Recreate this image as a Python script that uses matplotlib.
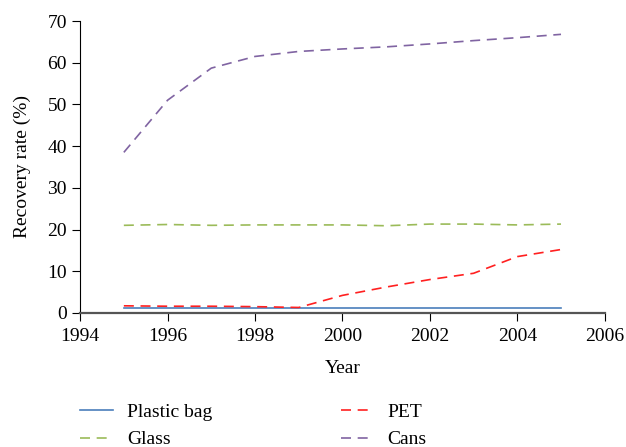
import matplotlib
matplotlib.use("Agg")
import matplotlib.pyplot as plt

years = [1995, 1996, 1997, 1998, 1999, 2000, 2001, 2002, 2003, 2004, 2005]
plastic_bag = [1.1, 1.1, 1.1, 1.1, 1.1, 1.1, 1.1, 1.1, 1.1, 1.1, 1.1]
pet = [1.7, 1.6, 1.6, 1.5, 1.3, 4.2, 6.2, 8.0, 9.5, 13.5, 15.2]
glass = [21.0, 21.2, 21.0, 21.1, 21.1, 21.1, 20.9, 21.3, 21.3, 21.1, 21.3]
cans = [38.5, 51.0, 58.7, 61.5, 62.7, 63.3, 63.8, 64.5, 65.3, 66.0, 66.8]

x_ticks = [1994, 1996, 1998, 2000, 2002, 2004, 2006]
y_ticks = [0, 10, 20, 30, 40, 50, 60, 70]

plt.rcParams['font.family'] = ['Liberation Serif', 'DejaVu Serif']

fig = plt.figure(figsize=(6.26, 4.47), dpi=100)
ax = fig.add_axes([0.128, 0.300, 0.838, 0.653])

dash = (0, (6, 4))
l1, = ax.plot(years, plastic_bag, color='#4a7ebb', lw=1.2, label='Plastic bag')
l2, = ax.plot(years, pet, color='#ff2020', lw=1.2, ls=dash, label='PET')
l3, = ax.plot(years, glass, color='#9bbb59', lw=1.2, ls=dash, label='Glass')
l4, = ax.plot(years, cans, color='#8064a2', lw=1.2, ls=dash, label='Cans')

ax.set_xlim(1994, 2006)
ax.set_ylim(0, 70)
ax.set_xticks(x_ticks)
ax.set_yticks(y_ticks)
ax.spines['top'].set_visible(False)
ax.spines['right'].set_visible(False)
ax.spines['left'].set_color('black')
ax.spines['bottom'].set_color('#555555')
ax.spines['bottom'].set_linewidth(1.6)
ax.tick_params(labelsize=14, length=6, direction='out', color='black')
ax.tick_params(axis='x', pad=5)
ax.set_xlabel('Year', fontsize=14, labelpad=11)
ax.set_ylabel('Recovery rate (%)', fontsize=14, labelpad=12)

# legend fills column by column
fig.legend(handles=[l1, l3, l2, l4], ncol=2, loc='upper left',
           bbox_to_anchor=(0.116, 0.115), frameon=False, fontsize=14,
           handlelength=1.7, handletextpad=0.7, columnspacing=6.6,
           labelspacing=0.5, borderaxespad=0)

fig.savefig('out.png', dpi=100)
